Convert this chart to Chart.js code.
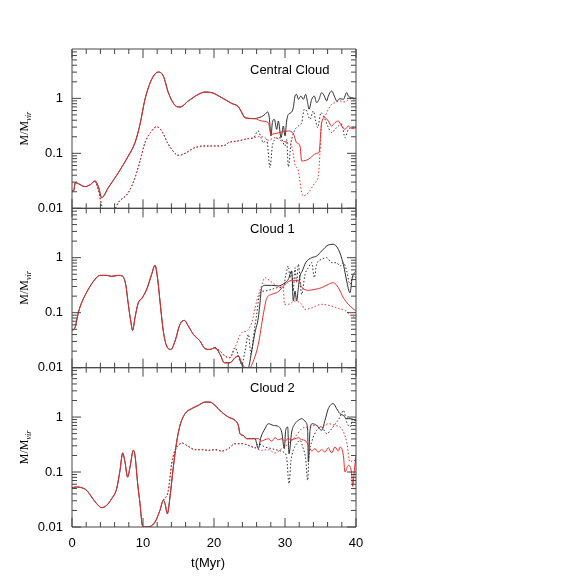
<!DOCTYPE html>
<html>
<head>
  <meta charset="UTF-8" />
  <title>M/Mvir of the clouds</title>
  <script src="https://cdn.jsdelivr.net/npm/chart.js"></script>
  <style>
    body { margin: 0; background: #fff; }
    #wrap { position: relative; width: 581px; height: 581px; }
    #wrap canvas { position: absolute; left: 0; top: 0; }
  </style>
</head>
<body>
<div id="wrap">
  <canvas id="centralChart" width="581" height="581"></canvas>
  <canvas id="cloud1Chart" width="581" height="581"></canvas>
  <canvas id="cloud2Chart" width="581" height="581"></canvas>
</div>

<script>
  // ---- data: [t (Myr), M/Mvir] ----
  const xTicks = [0, 10, 20, 30, 40];
  const yTicks = [0.01, 0.1, 1];
  const panelLabels = ['Central Cloud', 'Cloud 1', 'Cloud 2'];

  // Central cloud
  const centralSolidShared = [[0,0.0207],[0.25,0.021],[0.45,0.0293],[1.83,0.0248],[2.6,0.027],[3.24,0.0314],[3.7,0.025],[4.18,0.0156],[5.12,0.0238],[6.53,0.0445],[7.93,0.0895],[8.87,0.156],[9.58,0.337],[10.28,0.96],[11.22,2.21],[12.16,3.01],[12.86,2.55],[13.57,1.27],[14.51,0.746],[15.21,0.695],[16.38,0.895],[17.79,1.18],[18.73,1.30],[19.67,1.27],[21.08,1.03],[22.49,0.81],[23.43,0.705],[23.8,0.589],[24.37,0.445],[25.77,0.427]];
  const centralRedSolidTail = [[26.71,0.387],[27.65,0.361],[28.03,0.222],[28.59,0.228],[29.53,0.244],[30.47,0.255],[31.17,0.228],[31.64,0.156],[32.11,0.136],[32.35,0.0725],[33.29,0.0778],[34.46,0.1],[34.79,0.103],[35.16,0.361],[35.63,0.445],[36.1,0.387],[36.56,0.314],[37.04,0.361],[37.51,0.387],[37.98,0.314],[38.45,0.273],[38.92,0.314],[39.39,0.28],[40,0.293]];
  const centralBlackSolidTail = [[26.24,0.445],[26.71,0.464],[27.18,0.512],[27.56,0.565],[27.79,0.445],[28.03,0.207],[28.22,0.361],[28.5,0.415],[28.83,0.273],[29.06,0.387],[29.44,0.193],[29.77,0.314],[30.0,0.207],[30.23,0.387],[30.47,0.512],[30.85,0.549],[31.17,0.676],[31.41,1.10],[31.64,1.18],[31.88,0.96],[32.25,1.10],[32.58,0.96],[32.91,1.18],[33.19,0.834],[33.38,0.631],[33.76,0.96],[34.13,1.10],[34.46,0.834],[34.79,0.96],[35.16,1.27],[35.54,1.10],[35.87,0.895],[36.1,1.10],[36.57,1.36],[36.95,1.10],[37.28,0.895],[37.75,0.986],[38.22,0.96],[38.69,1.27],[38.92,1.10],[39.39,1.03],[40,0.986]];
  const centralDottedShared = [[3.24,0.0314],[3.7,0.022],[4.2,0.011],[4.6,0.0085],[5.6,0.0085],[6.06,0.0098],[6.53,0.0127],[7.93,0.0193],[8.87,0.0361],[9.58,0.0725],[10.28,0.156],[11.22,0.255],[11.92,0.305],[12.63,0.255],[13.57,0.146],[14.51,0.1],[14.98,0.092],[15.92,0.1],[17.32,0.127],[18.73,0.136],[20.14,0.136],[21.55,0.14],[22.02,0.156],[23.43,0.168],[24.84,0.185],[25.5,0.19]];
  const centralRedDottedTail = [[26.24,0.201],[27.18,0.193],[27.65,0.172],[28.59,0.193],[29.53,0.168],[30.47,0.156],[30.94,0.136],[31.41,0.063],[31.88,0.0477],[32.35,0.0193],[32.58,0.0168],[33.29,0.0193],[34.23,0.0293],[34.69,0.0387],[34.93,0.103],[35.16,0.361],[35.63,0.477],[36.1,0.631],[36.57,0.778],[37.04,0.834],[37.75,0.895],[38.45,0.858],[39.15,0.986],[40,0.96]];
  const centralBlackDottedTail = [[26.24,0.255],[26.62,0.193],[26.95,0.156],[27.42,0.18],[27.89,0.055],[28.22,0.136],[28.59,0.18],[29.06,0.193],[29.53,0.18],[30.0,0.136],[30.23,0.18],[30.47,0.057],[30.85,0.156],[31.31,0.255],[31.88,0.314],[32.35,0.361],[32.72,0.631],[33.05,0.589],[33.52,0.415],[33.99,0.589],[34.32,0.387],[34.6,0.293],[35.07,0.549],[35.54,0.445],[36.01,0.314],[36.57,0.238],[37.04,0.273],[37.51,0.314],[37.98,0.337],[38.45,0.193],[38.92,0.273],[39.39,0.293],[40,0.314]];

  // Cloud 1
  const cloud1SolidShared = [[0,0.0477],[0.42,0.0534],[0.89,0.1],[1.36,0.152],[2.3,0.266],[3.24,0.404],[3.94,0.477],[4.88,0.477],[5.59,0.458],[6.53,0.477],[7.09,0.464],[7.56,0.327],[7.93,0.142],[8.31,0.0658],[8.54,0.0477],[8.87,0.081],[9.34,0.152],[9.81,0.18],[10.52,0.266],[11.22,0.498],[11.69,0.726],[12.07,0.404],[12.39,0.163],[12.86,0.0464],[13.33,0.0248],[13.94,0.0215],[14.51,0.0305],[15.21,0.0614],[15.82,0.0725],[16.38,0.0573],[17.09,0.0404],[18.03,0.0305],[18.73,0.0222],[19.44,0.0215],[20.14,0.0231],[20.85,0.0175],[21.46,0.0123],[22.25,0.0123],[22.96,0.0152],[23.43,0.0163]];
  const cloud1RedSolidTail = [[23.9,0.0123],[24.37,0.01],[24.84,0.0093],[25.54,0.0132],[26.24,0.0266],[26.95,0.0933],[27.42,0.182],[28.12,0.215],[29.06,0.241],[30.0,0.327],[30.94,0.387],[31.88,0.387],[32.35,0.293],[33.29,0.255],[34.23,0.266],[35.16,0.285],[36.1,0.327],[36.81,0.351],[37.51,0.285],[38.22,0.187],[38.92,0.142],[40,0.107]];
  const cloud1BlackSolidTail = [[23.9,0.0115],[24.37,0.0093],[24.84,0.01],[25.31,0.0201],[25.77,0.0433],[26.24,0.081],[26.48,0.152],[26.71,0.285],[27.18,0.314],[28.12,0.314],[29.06,0.306],[30.0,0.351],[30.47,0.404],[30.94,0.573],[31.17,0.163],[31.41,0.248],[31.64,0.163],[31.88,0.285],[32.11,0.464],[32.44,0.573],[32.91,0.811],[33.76,1.0],[34.46,1.07],[35.16,1.32],[36.1,1.70],[36.81,1.75],[37.51,1.42],[38.22,0.757],[38.69,0.377],[39.15,0.231],[39.48,0.433],[40,0.573]];
  const cloud1DottedShared = [[20.14,0.0231],[20.85,0.0201],[21.55,0.0163],[22.25,0.0152],[22.96,0.0231]];
  const cloud1RedDottedTail = [[23.9,0.0433],[24.6,0.0464],[25.31,0.0658],[26.01,0.163],[26.62,0.285],[27.18,0.433],[27.89,0.377],[28.59,0.327],[29.3,0.306],[29.77,0.293],[29.91,0.142],[30.47,0.142],[31.41,0.163],[32.35,0.142],[32.82,0.115],[33.76,0.123],[35.16,0.142],[36.57,0.132],[37.51,0.12],[38.45,0.11],[39.39,0.087],[40,0.081]];
  const cloud1BlackDottedTail = [[23.9,0.0115],[24.37,0.0201],[24.84,0.0404],[25.21,0.0175],[25.54,0.0351],[26.01,0.0933],[26.48,0.231],[27.18,0.248],[28.12,0.266],[29.06,0.285],[29.77,0.285],[30.09,0.464],[30.47,0.705],[30.7,0.433],[30.94,0.573],[31.17,0.248],[31.41,0.658],[31.64,0.351],[31.88,0.757],[32.35,0.215],[32.82,0.498],[33.29,0.658],[33.76,0.811],[34.13,0.433],[34.46,0.757],[35.16,0.933],[35.87,1.0],[36.57,0.811],[37.28,0.811],[37.75,0.705],[38.22,0.811],[38.69,0.573],[39.15,0.327],[39.62,0.464],[40,0.433]];

  // Cloud 2
  const cloud2SolidShared = [[0,0.0519],[0.66,0.0534],[1.36,0.0519],[2.07,0.0464],[2.77,0.0351],[3.47,0.0266],[4.18,0.0225],[4.88,0.0248],[5.59,0.0328],[6.29,0.0498],[6.76,0.107],[7.14,0.222],[7.46,0.152],[7.84,0.081],[8.17,0.123],[8.64,0.248],[8.87,0.201],[9.25,0.0614],[9.58,0.0266],[9.91,0.0107],[10.28,0.01],[10.99,0.0102],[11.69,0.0123],[12.39,0.0201],[12.86,0.0305],[13.1,0.0266],[13.43,0.0175],[13.8,0.0351],[14.27,0.123],[14.74,0.351],[15.21,0.705],[15.92,1.15],[16.85,1.42],[17.79,1.63],[18.73,1.87],[19.44,1.87],[20.14,1.63],[21.08,1.23],[22.02,1.0],[22.96,0.87],[23.43,0.705],[23.66,0.498],[24.13,0.464],[24.6,0.404],[25.31,0.404],[25.77,0.404]];
  const cloud2RedSolidTail = [[26.24,0.404],[26.71,0.366],[27.18,0.387],[27.65,0.404],[28.12,0.366],[28.59,0.42],[29.06,0.387],[29.53,0.404],[30.0,0.366],[30.47,0.404],[30.94,0.387],[31.41,0.404],[31.88,0.42],[32.35,0.387],[32.82,0.377],[33.29,0.306],[33.76,0.241],[34.23,0.266],[34.69,0.231],[35.16,0.255],[35.63,0.231],[36.1,0.276],[36.57,0.222],[37.04,0.285],[37.51,0.241],[37.75,0.285],[38.22,0.201],[38.45,0.1],[38.92,0.132],[39.39,0.093],[39.53,0.055],[39.77,0.107],[40,0.2]];
  const cloud2BlackSolidTail = [[26.24,0.266],[26.62,0.433],[27.18,0.614],[27.65,0.757],[28.36,0.705],[29.06,0.676],[29.53,0.533],[29.91,0.266],[30.09,0.573],[30.38,0.658],[30.56,0.215],[30.94,0.533],[31.41,0.757],[31.88,0.87],[32.35,0.933],[32.91,0.811],[33.19,0.573],[33.29,0.152],[33.52,0.573],[33.85,0.757],[34.46,0.705],[35.16,0.573],[35.63,0.87],[36.1,1.42],[36.81,1.75],[37.28,1.42],[37.75,1.15],[38.22,1.07],[38.69,0.933],[39.15,0.933],[40,0.87]];
  const cloud2DottedShared = [[12.86,0.0305],[13.57,0.0464],[14.04,0.142],[14.51,0.248],[14.98,0.306],[15.45,0.337],[16.38,0.293],[17.32,0.255],[18.26,0.255],[19.2,0.248],[20.14,0.255],[21.08,0.241],[22.02,0.266],[22.96,0.327],[23.9,0.327],[24.84,0.306],[25.77,0.276]];
  const cloud2RedDottedTail = [[26.71,0.248],[27.65,0.255],[28.59,0.222],[29.53,0.266],[30.47,0.327],[31.41,0.433],[32.35,0.614],[33.29,0.658],[34.23,0.705],[35.16,0.658],[36.1,0.757],[37.04,0.705],[37.98,0.614],[38.69,0.351],[39.15,0.152],[39.62,0.163],[40,0.163]];
  const cloud2BlackDottedTail = [[26.24,0.327],[27.18,0.285],[28.12,0.266],[29.06,0.248],[29.77,0.231],[30.23,0.187],[30.56,0.0614],[30.85,0.163],[31.17,0.248],[31.64,0.327],[32.11,0.377],[32.58,0.266],[32.91,0.175],[33.19,0.0704],[33.38,0.201],[33.76,0.351],[34.46,0.573],[35.16,0.658],[35.87,0.498],[36.57,0.614],[37.28,0.811],[37.75,1.0],[38.22,1.32],[38.69,0.811],[39.15,0.658],[39.62,0.933],[40,0.811]];

  // ---- look ----
  const RED = 'rgb(238,42,42)';
  const BLACK = 'rgb(45,45,45)';
  const FRAME = '#444';
  const SANS = '"Liberation Sans", Arial, Helvetica, sans-serif';
  const SERIF = '"Liberation Serif", "Times New Roman", serif';
  const Y_MAX = 7.9;

  // frame, inward ticks, panel label and axis titles
  const panelDecor = {
    id: 'panelDecor',
    afterDraw(chart, args, opts) {
      const { ctx, chartArea: a, scales: { x, y } } = chart;
      ctx.save();
      ctx.strokeStyle = FRAME;
      ctx.lineWidth = 1;
      ctx.beginPath();
      ctx.rect(a.left, a.top, a.right - a.left, a.bottom - a.top);
      for (let t = 0; t <= 40; t += 2) {
        const px = x.getPixelForValue(t);
        const len = t % 10 === 0 ? 9 : 5;
        ctx.moveTo(px, a.bottom); ctx.lineTo(px, a.bottom - len);
        ctx.moveTo(px, a.top); ctx.lineTo(px, a.top + len);
      }
      for (let e = -2; e <= 0; e++) {
        for (let k = 1; k <= 9; k++) {
          const v = k * Math.pow(10, e);
          if (v > y.max) continue;
          const py = y.getPixelForValue(v);
          const len = k === 1 ? 9 : 5;
          ctx.moveTo(a.left, py); ctx.lineTo(a.left + len, py);
          ctx.moveTo(a.right, py); ctx.lineTo(a.right - len, py);
        }
      }
      ctx.stroke();

      ctx.fillStyle = '#000';
      ctx.font = '13px ' + SANS;
      ctx.textAlign = 'left';
      ctx.textBaseline = 'alphabetic';
      ctx.fillText(opts.label, 250, a.top + 24.5);

      // y title  M/M_vir
      ctx.save();
      ctx.translate(28, (a.top + a.bottom) / 2);
      ctx.rotate(-Math.PI / 2);
      ctx.font = '12px ' + SERIF;
      const wMain = ctx.measureText('M/M').width;
      ctx.font = 'italic 8px ' + SERIF;
      const wSub = ctx.measureText('vir').width;
      const x0 = -(wMain + wSub) / 2;
      ctx.font = '12px ' + SERIF;
      ctx.fillText('M/M', x0, 0);
      ctx.font = 'italic 8px ' + SERIF;
      ctx.fillText('vir', x0 + wMain, 3);
      ctx.restore();

      if (opts.xTitle) {
        ctx.font = '13px ' + SANS;
        ctx.textAlign = 'center';
        ctx.fillText('t(Myr)', 208, 567);
      }
      ctx.restore();
    }
  };

  function line(shared, tail, color, dash, order) {
    return {
      data: shared.concat(tail).map(([x, y]) => ({ x: x, y: y })),
      borderColor: color,
      borderWidth: 1,
      borderDash: dash,
      pointRadius: 0,
      cubicInterpolationMode: 'monotone',
      fill: false,
      order: order,
    };
  }

  function create_panel(id, label, d, top, bottom, showX) {
    const tickFont = { family: SANS, size: 13 };
    const xAxisHeight = showX ? 40 : 0;
    return new Chart(document.getElementById(id), {
      type: 'line',
      data: {
        datasets: [
          line(d.solid, d.redSolid, RED, [], 0),
          line(d.dotted, d.redDotted, RED, [1.5, 2], 1),
          line(d.solid, d.blackSolid, BLACK, [], 2),
          line(d.dotted, d.blackDotted, BLACK, [1.5, 2], 3),
        ]
      },
      options: {
        responsive: false,
        animation: false,
        devicePixelRatio: 1,
        layout: { padding: { left: 0, right: 225, top: top, bottom: 581 - bottom - xAxisHeight } },
        plugins: {
          legend: { display: false },
          tooltip: { enabled: false },
          panelDecor: { label: label, xTitle: showX },
        },
        scales: {
          x: {
            type: 'linear', min: 0, max: 40, display: showX,
            grid: { display: false, drawTicks: false },
            border: { display: false },
            afterBuildTicks: s => { s.ticks = xTicks.map(v => ({ value: v })); },
            afterFit: s => { s.height = xAxisHeight; },
            ticks: { padding: 9, color: '#000', font: tickFont, maxRotation: 0 },
          },
          y: {
            type: 'logarithmic', min: 0.01, max: Y_MAX,
            grid: { display: false, drawTicks: false },
            border: { display: false },
            afterBuildTicks: s => { s.ticks = yTicks.map(v => ({ value: v })); },
            afterFit: s => { s.width = 72; },
            ticks: { padding: 9, color: '#000', font: tickFont, callback: v => String(v) },
          }
        }
      },
      plugins: [panelDecor],
    });
  }

  const tops = [49, 208.3, 367.7];
  const bottoms = [208.3, 367.7, 527];

  create_panel('centralChart', panelLabels[0], {
    solid: centralSolidShared, redSolid: centralRedSolidTail, blackSolid: centralBlackSolidTail,
    dotted: centralDottedShared, redDotted: centralRedDottedTail, blackDotted: centralBlackDottedTail,
  }, tops[0], bottoms[0], false);
  create_panel('cloud1Chart', panelLabels[1], {
    solid: cloud1SolidShared, redSolid: cloud1RedSolidTail, blackSolid: cloud1BlackSolidTail,
    dotted: cloud1DottedShared, redDotted: cloud1RedDottedTail, blackDotted: cloud1BlackDottedTail,
  }, tops[1], bottoms[1], false);
  create_panel('cloud2Chart', panelLabels[2], {
    solid: cloud2SolidShared, redSolid: cloud2RedSolidTail, blackSolid: cloud2BlackSolidTail,
    dotted: cloud2DottedShared, redDotted: cloud2RedDottedTail, blackDotted: cloud2BlackDottedTail,
  }, tops[2], bottoms[2], true);
</script>
</body>
</html>
